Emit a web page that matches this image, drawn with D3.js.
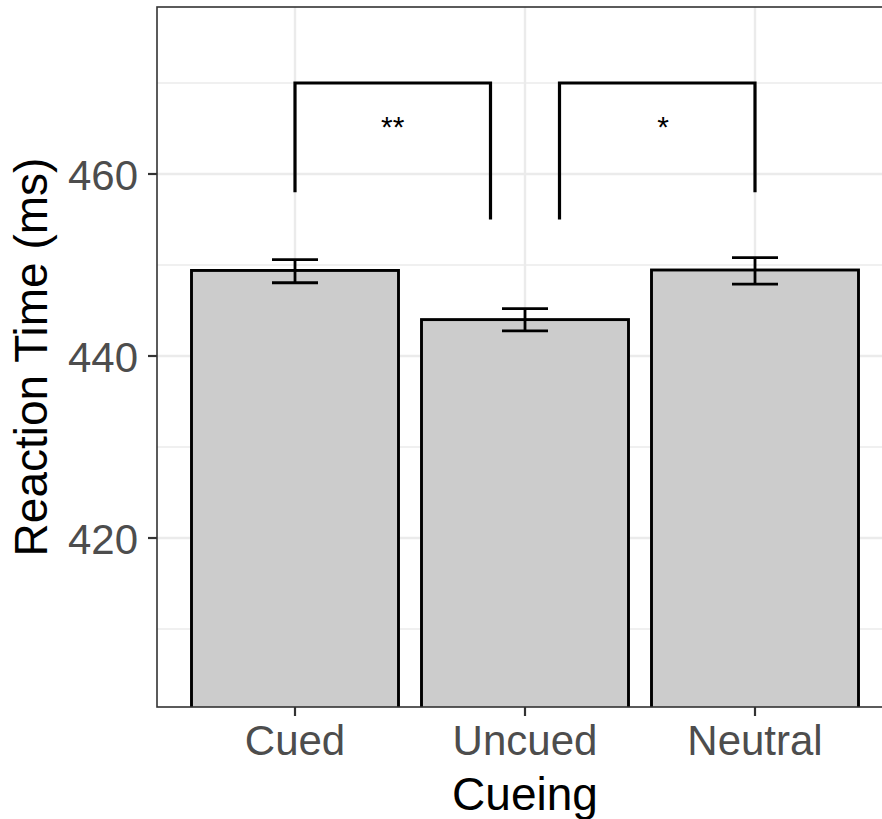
<!DOCTYPE html>
<html>
<head>
<meta charset="utf-8">
<script src="https://cdn.jsdelivr.net/npm/d3@7"></script>
<style>
  html, body { margin: 0; padding: 0; background: #fff; }
  svg { display: block; }
  text { font-family: "Liberation Sans", Arial, Helvetica, sans-serif; }
</style>
</head>
<body>
<script>
// Mean reaction time per cueing condition, with standard-error bounds
const categories = ["Cued", "Uncued", "Neutral"];
const meanRT = [449.4, 444.0, 449.45];
const lowerRT = [448.05, 442.75, 447.9];
const upperRT = [450.6, 445.2, 450.8];

// Y axis ticks and minor gridlines
const majorTicks = [420, 440, 460];
const minorTicks = [410, 430, 450, 470];

// Significance brackets: positions in category units, leg ends in ms
const brackets = [
  { xmin: 1, xmax: 1.85, yTop: 470, yLeft: 458, yRight: 455, label: "**", labelX: 1.425, labelY: 465.6 },
  { xmin: 2.15, xmax: 3, yTop: 470, yLeft: 455, yRight: 458, label: "*", labelX: 2.6, labelY: 465.6 }
];

const W = 882, H = 819;
const panel = { left: 157, top: 7, right: 893, bottom: 707 };

const svg = d3.select("body").append("svg")
  .attr("width", W).attr("height", H);

// Category position scale (numeric, 1-based) and point scale for labels
const xNum = d3.scaleLinear().domain([0.4, 3.6]).range([panel.left, panel.right]);
const x = d3.scalePoint().domain(categories).range([panel.left, panel.right]).padding(0.6);
const step = x.step();
const y = d3.scaleLinear().domain([401.43, 478.35]).range([panel.bottom, panel.top]);

svg.append("defs").append("clipPath").attr("id", "panelClip")
  .append("rect")
  .attr("x", panel.left).attr("y", panel.top)
  .attr("width", panel.right - panel.left).attr("height", panel.bottom - panel.top);

const g = svg.append("g").attr("clip-path", "url(#panelClip)");

// Gridlines
g.selectAll("line.minor").data(minorTicks).join("line")
  .attr("x1", panel.left).attr("x2", panel.right)
  .attr("y1", d => y(d)).attr("y2", d => y(d))
  .attr("stroke", "#EBEBEB").attr("stroke-width", 1.3);
g.selectAll("line.major").data(majorTicks).join("line")
  .attr("x1", panel.left).attr("x2", panel.right)
  .attr("y1", d => y(d)).attr("y2", d => y(d))
  .attr("stroke", "#EBEBEB").attr("stroke-width", 2.4);
g.selectAll("line.vmajor").data(categories).join("line")
  .attr("x1", d => x(d)).attr("x2", d => x(d))
  .attr("y1", panel.top).attr("y2", panel.bottom)
  .attr("stroke", "#EBEBEB").attr("stroke-width", 2.4);

// Bars
const barW = step * 0.9;
g.selectAll("rect.bar").data(categories).join("rect")
  .attr("x", d => x(d) - barW / 2)
  .attr("width", barW)
  .attr("y", (d, i) => y(meanRT[i]))
  .attr("height", (d, i) => panel.bottom + 10 - y(meanRT[i]))
  .attr("fill", "#CCCCCC")
  .attr("stroke", "#000").attr("stroke-width", 2.9);

// Error bars
const capW = step * 0.2;
const eb = g.selectAll("g.eb").data(categories).join("g")
  .attr("stroke", "#000").attr("stroke-width", 2.8).attr("fill", "none");
eb.append("line")
  .attr("x1", d => x(d)).attr("x2", d => x(d))
  .attr("y1", (d, i) => y(lowerRT[i])).attr("y2", (d, i) => y(upperRT[i]));
eb.append("line")
  .attr("x1", d => x(d) - capW / 2).attr("x2", d => x(d) + capW / 2)
  .attr("y1", (d, i) => y(lowerRT[i])).attr("y2", (d, i) => y(lowerRT[i]));
eb.append("line")
  .attr("x1", d => x(d) - capW / 2).attr("x2", d => x(d) + capW / 2)
  .attr("y1", (d, i) => y(upperRT[i])).attr("y2", (d, i) => y(upperRT[i]));

// Significance brackets
g.selectAll("path.bracket").data(brackets).join("path")
  .attr("d", b => `M${xNum(b.xmin)},${y(b.yLeft)}V${y(b.yTop)}H${xNum(b.xmax)}V${y(b.yRight)}`)
  .attr("fill", "none").attr("stroke", "#000").attr("stroke-width", 3.2)
  .attr("stroke-linejoin", "miter");
g.selectAll("text.sig").data(brackets).join("text")
  .attr("x", b => xNum(b.labelX))
  .attr("y", b => y(b.labelY) + 0.46 * 30)
  .attr("text-anchor", "middle")
  .attr("font-size", 30)
  .attr("fill", "#000")
  .text(b => b.label);

// Panel border
svg.append("rect")
  .attr("x", panel.left).attr("y", panel.top)
  .attr("width", panel.right - panel.left).attr("height", panel.bottom - panel.top)
  .attr("fill", "none").attr("stroke", "#333333").attr("stroke-width", 1.6);

// Y axis ticks and labels
const tickLen = 9;
svg.selectAll("line.ytick").data(majorTicks).join("line")
  .attr("x1", panel.left - tickLen).attr("x2", panel.left)
  .attr("y1", d => y(d)).attr("y2", d => y(d))
  .attr("stroke", "#333333").attr("stroke-width", 2.2);
svg.selectAll("text.ylab").data(majorTicks).join("text")
  .attr("x", 138)
  .attr("y", d => y(d) + 16)
  .attr("text-anchor", "end")
  .attr("font-size", 42)
  .attr("fill", "#4D4D4D")
  .text(d => d);

// X axis ticks and labels
svg.selectAll("line.xtick").data(categories).join("line")
  .attr("x1", d => x(d)).attr("x2", d => x(d))
  .attr("y1", panel.bottom).attr("y2", panel.bottom + tickLen)
  .attr("stroke", "#333333").attr("stroke-width", 2.2);
svg.selectAll("text.xlab").data(categories).join("text")
  .attr("x", d => x(d))
  .attr("y", 755)
  .attr("text-anchor", "middle")
  .attr("font-size", 42)
  .attr("fill", "#4D4D4D")
  .text(d => d);

// Axis titles
svg.append("text")
  .attr("x", (panel.left + panel.right) / 2)
  .attr("y", 810)
  .attr("text-anchor", "middle")
  .attr("font-size", 46)
  .attr("fill", "#000")
  .text("Cueing");
svg.append("text")
  .attr("transform", `translate(47,${(panel.top + panel.bottom) / 2}) rotate(-90)`)
  .attr("text-anchor", "middle")
  .attr("font-size", 46)
  .attr("fill", "#000")
  .text("Reaction Time (ms)");
</script>
</body>
</html>
